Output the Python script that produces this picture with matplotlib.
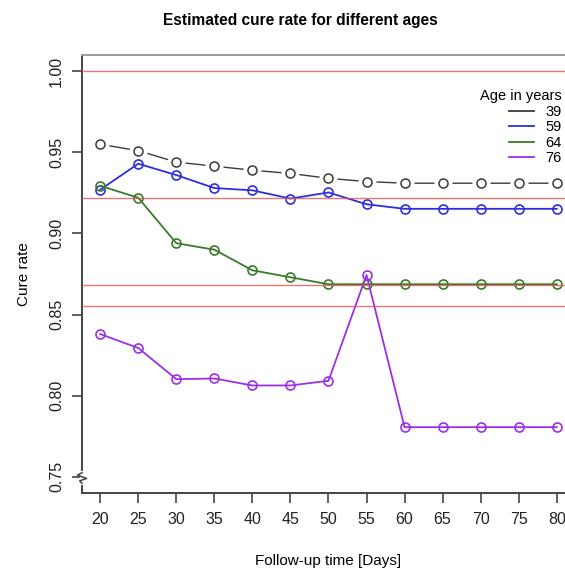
import numpy as np
import matplotlib.pyplot as plt

plt.rcParams['font.family'] = ['Liberation Sans', 'DejaVu Sans']

# follow-up days and estimated cure rate per age group
days = [20, 25, 30, 35, 40, 45, 50, 55, 60, 65, 70, 75, 80]
age_39 = [0.955, 0.951, 0.944, 0.9415, 0.939, 0.937, 0.934, 0.932, 0.931, 0.931, 0.931, 0.931, 0.931]
age_59 = [0.927, 0.943, 0.936, 0.928, 0.9266, 0.9215, 0.9253, 0.918, 0.9152, 0.9152, 0.9152, 0.9152, 0.9152]
age_64 = [0.9294, 0.922, 0.894, 0.890, 0.8773, 0.873, 0.8687, 0.8687, 0.8687, 0.8687, 0.8687, 0.8687, 0.8687]
age_76 = [0.838, 0.8294, 0.8102, 0.8106, 0.8063, 0.8063, 0.8092, 0.8744, 0.7806, 0.7806, 0.7806, 0.7806, 0.7806]
ref_levels = [1.00, 0.922, 0.868, 0.855]

ages = ['39', '59', '64', '76']
colors = ['#3a3a3a', '#2e2ee0', '#3a7a2c', '#9b30e6']

fig = plt.figure(figsize=(5.65, 5.68), dpi=100)
ax = fig.add_axes([0.1451, 0.132, 0.8726, 0.7711])

for lvl in ref_levels:
    ax.axhline(lvl, color='#e05555', lw=1.0, alpha=0.8, zorder=3)

# 39 years: line broken around the points
ax.plot(days, age_39, color=colors[0], lw=1.0, zorder=1)
ax.plot(days, age_39, 'o', ms=13, mfc='white', mec='none', zorder=1.5)
ax.plot(days, age_39, 'o', ms=6.5, mfc='none', mec=colors[0], mew=1.1, zorder=4)

for vals, c in zip([age_59, age_64, age_76], colors[1:]):
    ax.plot(days, vals, '-o', color=c, lw=1.3, ms=6.5, mfc='none', mew=1.2, zorder=2)

ax.set_xlim(17.6, 82.4)
ax.set_ylim(0.74, 1.01)
ax.set_xticks(days)
ax.set_yticks([0.75, 0.80, 0.85, 0.90, 0.95, 1.00])
ax.set_yticklabels(['0.75', '0.80', '0.85', '0.90', '0.95', '1.00'], rotation=90, va='center')
ax.tick_params(axis='both', length=7, width=1.2, color='#444444', labelsize=11.5,
               labelcolor='#222222')
ax.tick_params(axis='x', pad=7)
ax.tick_params(axis='y', pad=6)

for side in ['left', 'bottom']:
    ax.spines[side].set_color('#444444')
    ax.spines[side].set_linewidth(1.4)
ax.spines['top'].set_color('#999999')
ax.spines['top'].set_linewidth(1.4)
ax.spines['right'].set_visible(False)

# axis break marker near the bottom of the y axis
zx = np.array([0, -0.6, 0.6, -0.3, 0])
zy = np.array([0.7525, 0.751, 0.749, 0.7475, 0.746])
ax.plot([17.6, 17.6], [0.746, 0.7525], color='white', lw=3, clip_on=False, zorder=5)
ax.plot(17.6 + zx, zy, color='#444444', lw=1.1, clip_on=False, zorder=6)

ax.set_xlabel('Follow-up time [Days]', fontsize=11, labelpad=19)
ax.set_ylabel('Cure rate', fontsize=11, labelpad=13)
fig.text(300 / 565, 1 - 20 / 568, 'Estimated cure rate for different ages',
         ha='center', va='center', fontsize=11.2, fontweight='bold')

handles = [plt.Line2D([], [], color=c, lw=1.3) for c in colors]
leg = ax.legend(handles, ages, title='Age in years', frameon=False, fontsize=10.5,
                title_fontsize=10.5, loc='upper right',
                bbox_to_anchor=(569 / 565, 1 - 82 / 568), bbox_transform=fig.transFigure,
                handlelength=1.7, handletextpad=0.8, labelspacing=0.1, borderpad=0)
leg._legend_box.align = 'right'

fig.savefig('out.png', dpi=100)
